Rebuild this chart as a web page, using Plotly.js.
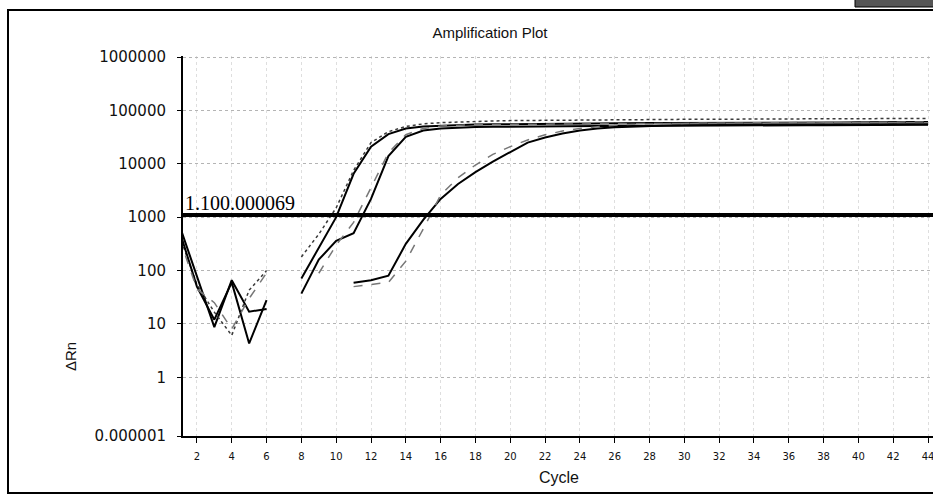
<!DOCTYPE html>
<html>
<head>
<meta charset="utf-8">
<script src="https://cdn.plot.ly/plotly-3.0.1.min.js"></script>
<style>
html, body { margin:0; padding:0; overflow:hidden; background:#fff; }
#chart { width:945px; height:495px; }
</style>
</head>
<body>
<div id="chart"></div>
<script>
// ---- data ----
const cycles = [1,2,3,4,5,6,7,8,9,10,11,12,13,14,15,16,17,18,19,20,21,22,23,24,25,26,27,28,29,30,31,32,33,34,35,36,37,38,39,40,41,42,43,44];

const wellA1 = [700,75,8.7,66,17,19,null,71,270,1000,6500,21000,36000,46000,50000,52000,53500,54500,55000,55500,56000,56000,56500,57000,57000,57500,57500,58000,58000,58000,58500,58500,58500,59000,59000,59000,59500,59500,59500,60000,60000,60000,60500,60500];
const wellA2 = [450,55,16.6,6.1,43,100,null,180,480,1500,7500,25000,40000,50000,56000,59000,61000,62500,63500,64500,65000,65500,66000,66500,67000,67000,67500,67500,68000,68000,68500,68500,69000,69000,69000,69500,69500,70000,70000,70000,70500,70500,71000,71000];
const wellB1 = [550,50,12,60,4.3,28,null,37,160,360,500,2200,14000,32000,42000,46000,48000,49000,49500,50000,50000,50500,50500,51000,51000,51000,51500,51500,51500,52000,52000,52000,52500,52500,52500,53000,53000,53000,53000,53500,53500,53500,54000,54000];
const wellB2 = [400,45,25,8,30,90,null,null,89,300,800,3500,16000,35000,46000,51000,53000,54000,54500,55000,55500,55500,56000,56000,56500,56500,56500,57000,57000,57000,57500,57500,57500,58000,58000,58000,58000,58500,58500,58500,59000,59000,59000,59000];
const wellC1 = [null,null,null,null,null,null,null,null,null,null,59,66,80,316,890,2200,4200,7000,11000,16500,25000,31000,37000,42000,46000,48500,50000,51000,52000,52500,53000,53000,53500,53500,54000,54000,54000,54500,54500,54500,55000,55000,55000,55000];
const wellC2 = [null,null,null,null,null,null,null,null,null,null,50,55,60,150,600,2600,5500,9500,15000,21000,28000,35000,41000,46000,50000,53000,55000,56000,57000,57500,58000,58000,58500,58500,59000,59000,59500,59500,60000,60000,60000,60500,60500,61000];

const threshold = 1100;
const thresholdLabel = "1.100.000069";

const xTickVals = [2,4,6,8,10,12,14,16,18,20,22,24,26,28,30,32,34,36,38,40,42,44];
const yTickVals = [Math.pow(10,-1.1),1,10,100,1000,10000,100000,1000000];
const yTickText = ["0.000001","1","10","100","1000","10000","100000","1000000"];

// ---- styles ----
const series = [
  {y: wellA1, color:"#000000", width:2,   dash:"solid"},
  {y: wellA2, color:"#3a3a3a", width:1.5, dash:"dot"},
  {y: wellB1, color:"#000000", width:2,   dash:"solid"},
  {y: wellB2, color:"#777777", width:1.5, dash:"dash"},
  {y: wellC1, color:"#000000", width:2,   dash:"solid"},
  {y: wellC2, color:"#777777", width:1.5, dash:"dash"}
];

const traces = series.map(s => ({
  type:"scatter", mode:"lines", x:cycles, y:s.y,
  line:{color:s.color, width:s.width, dash:s.dash},
  connectgaps:false, hoverinfo:"skip", showlegend:false
}));

// plot area: x 183..935, y 56..436 (px)
const layout = {
  width:945, height:495,
  margin:{l:183, r:10, t:56, b:59},
  paper_bgcolor:"#ffffff", plot_bgcolor:"#ffffff",
  font:{family:"Liberation Sans, Arial, sans-serif", color:"#111"},
  showlegend:false,
  title:{text:"Amplification Plot", font:{family:"Liberation Sans, Arial, sans-serif", size:15, color:"#111"},
         xref:"container", x:490/945, xanchor:"center", yref:"container", y:1-33/495, yanchor:"middle"},
  xaxis:{
    range:[1.2,44.4], tickmode:"array", tickvals:xTickVals,
    ticks:"outside", ticklen:5, tickwidth:1, tickcolor:"#000",
    ticklabelstandoff:5,
    tickfont:{family:"DejaVu Sans, sans-serif", size:10, color:"#111"},
    showline:true, linecolor:"#000", linewidth:2, mirror:false,
    showgrid:true, gridcolor:"#dedede", griddash:"dot", gridwidth:1,
    zeroline:false, automargin:false,
    title:{text:"Cycle", font:{family:"Liberation Sans, Arial, sans-serif", size:16, color:"#111"}, standoff:11}
  },
  yaxis:{
    type:"log", range:[-1.1,6.02], tickmode:"array", tickvals:yTickVals, ticktext:yTickText,
    ticks:"outside", ticklen:4, tickwidth:1, tickcolor:"#000",
    ticklabelstandoff:8,
    tickfont:{family:"DejaVu Sans, sans-serif", size:15, color:"#111"},
    showline:true, linecolor:"#000", linewidth:2, mirror:false,
    showgrid:true, gridcolor:"#b4b4b4", griddash:"dot", gridwidth:1,
    zeroline:false, automargin:false
  },
  shapes:[
    // threshold line
    {type:"line", xref:"paper", x0:0, x1:1, yref:"y", y0:threshold, y1:threshold,
     line:{color:"#000", width:4}},
    // outer frame
    {type:"rect", xref:"paper", yref:"paper", x0:(8-183)/752, x1:1.03, y0:(436-493)/380, y1:(436-10)/380,
     line:{color:"#000", width:2}, fillcolor:"rgba(0,0,0,0)", layer:"below"},
    // top-right bar
    {type:"rect", xref:"paper", yref:"paper", x0:(855-183)/752, x1:1.03, y0:(436-7)/380, y1:(436+2)/380,
     line:{color:"#000", width:1}, fillcolor:"#555"}
  ],
  annotations:[
    {text:thresholdLabel, xref:"paper", x:0, xanchor:"left", yref:"y", y:Math.log10(threshold), yanchor:"bottom",
     showarrow:false, yshift:-1, font:{family:"Liberation Serif, Times New Roman, serif", size:20, color:"#000"}},
    {text:"ΔRn", xref:"paper", x:(60-183)/752, yref:"paper", y:(436-373)/380, textangle:-90,
     showarrow:false, font:{family:"Liberation Sans, Arial, sans-serif", size:15, color:"#111"}}
  ]
};

Plotly.newPlot("chart", traces, layout, {staticPlot:true, displayModeBar:false});
</script>
</body>
</html>
